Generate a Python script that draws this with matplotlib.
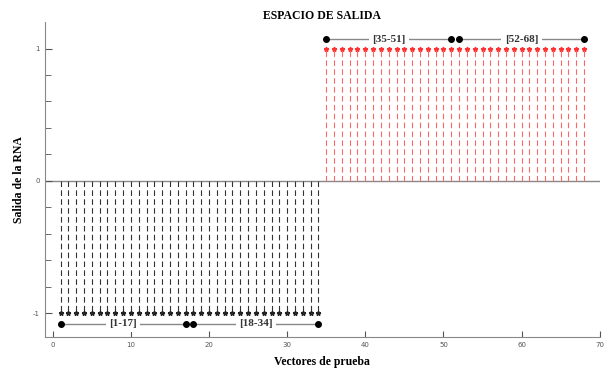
import matplotlib
matplotlib.use("Agg")
import matplotlib.pyplot as plt
import numpy as np

plt.rcParams["axes.unicode_minus"] = False

# Data
neg_x = list(range(1, 35))
neg_y = [-1] * 34
pos_x = list(range(35, 69))
pos_y = [1] * 34
groups = [("[1-17]", 1, 17, -1.08), ("[18-34]", 18, 34, -1.08),
          ("[35-51]", 35, 51, 1.07), ("[52-68]", 52, 68, 1.07)]
xticks = [0, 10, 20, 30, 40, 50, 60, 70]
yticks = [-1, 0, 1]

SERIF = ["Liberation Serif", "DejaVu Serif"]

fig = plt.figure(figsize=(6.07, 3.69), dpi=100)
ax = fig.add_axes([0.074, 0.087, 0.914, 0.853])

ax.axhline(0, color="#888888", lw=1.0, zorder=1)
ax.vlines(neg_x, 0, neg_y, colors="#333333", linestyles=(0, (5, 3)), lw=0.8)
ax.plot(neg_x, neg_y, ls="none", marker="*", ms=3.5, color="#222222")
ax.vlines(pos_x, 0, pos_y, colors="#ff6666", linestyles=(0, (5, 3)), lw=0.8)
ax.plot(pos_x, pos_y, ls="none", marker="*", ms=3.5, color="#ff3333")

for lab, a, b, yy in groups:
    ax.plot([a, b], [yy, yy], color="#888888", lw=1.0, zorder=2)
    ax.plot([a, b], [yy, yy], ls="none", marker="o", ms=4, color="black", zorder=3)
    ax.text((a + b) / 2, yy, lab, ha="center", va="center", fontsize=8,
            fontweight="bold", family=SERIF, color="#333333",
            bbox=dict(facecolor="white", edgecolor="none", pad=2.5), zorder=4)

ax.set_xlim(-1, 70)
ax.set_ylim(-1.18, 1.2)
ax.set_xticks(xticks)
ax.set_yticks(yticks)
ax.set_yticks(np.arange(-1, 1.01, 0.2), minor=True)
ax.tick_params(axis="both", which="both", direction="in", labelsize=5, colors="#555555")
ax.tick_params(axis="y", which="major", length=5)
ax.tick_params(axis="y", which="minor", length=4)
ax.tick_params(axis="x", which="major", length=4)
for s in ["top", "right"]:
    ax.spines[s].set_visible(False)
for s in ["left", "bottom"]:
    ax.spines[s].set_color("#888888")

ax.set_title("ESPACIO DE SALIDA", fontsize=8.5, fontweight="bold", family=SERIF, pad=2)
ax.set_xlabel("Vectores de prueba", fontsize=8.5, fontweight="bold", family=SERIF, labelpad=6)
ax.set_ylabel("Salida de la RNA", fontsize=8.5, fontweight="bold", family=SERIF, labelpad=6)

fig.savefig("out.png", dpi=100)
